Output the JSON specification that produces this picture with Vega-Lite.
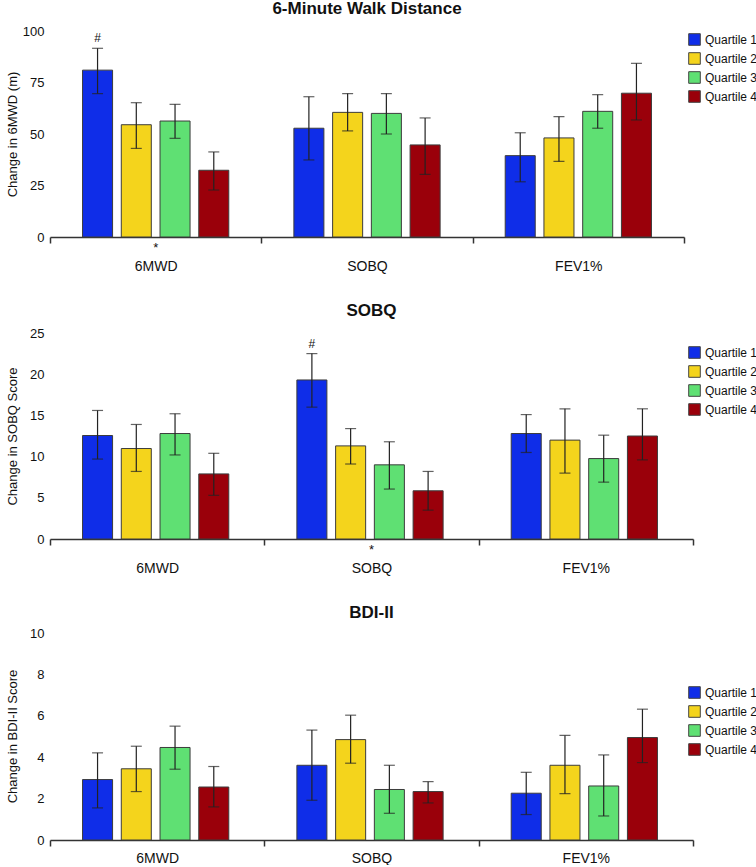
{
  "$schema": "https://vega.github.io/schema/vega-lite/v6.json",
  "padding": {"left": 6, "top": 0, "right": 0, "bottom": 0},
  "autosize": {"type": "pad"},
  "spacing": 29,
  "config": {
    "font": "Liberation Sans",
    "view": {"stroke": null},
    "axis": {"labelFont": "Liberation Sans", "titleFont": "Liberation Sans", "labelColor": "#111", "titleColor": "#111", "grid": false},
    "axisX": {"domainColor": "#333", "domainWidth": 1.5, "tickColor": "#333", "tickWidth": 1.5, "tickSize": 6, "tickBand": "extent", "labelPadding": 16, "labelFontSize": 14, "labelAngle": 0},
    "axisY": {"domain": false, "ticks": false, "labelPadding": 6, "labelFontSize": 13, "titleFontSize": 13, "titleFontWeight": "normal", "titleX": -38, "titleY": 103, "titleAngle": -90, "titleAlign": "center", "titleBaseline": "middle"},
    "legend": {"orient": "none", "title": null, "labelFontSize": 12, "labelColor": "#111", "symbolType": "square", "symbolSize": 135, "symbolStrokeColor": "#444", "symbolStrokeWidth": 1, "rowPadding": 2, "labelOffset": 4, "padding": 0},
    "title": {"fontSize": 17, "fontWeight": "bold", "color": "#111", "offset": 7, "anchor": "middle"}
  },
  "datasets": {
    "main": [
      {"panel": "walk", "cat": "6MWD", "q": "Quartile 1", "v": 81.0, "lo": 69.6, "hi": 91.6, "note": "#"},
      {"panel": "walk", "cat": "6MWD", "q": "Quartile 2", "v": 54.5, "lo": 43.0, "hi": 65.2, "note": ""},
      {"panel": "walk", "cat": "6MWD", "q": "Quartile 3", "v": 56.3, "lo": 47.9, "hi": 64.4, "note": ""},
      {"panel": "walk", "cat": "6MWD", "q": "Quartile 4", "v": 32.4, "lo": 22.8, "hi": 41.3, "note": ""},
      {"panel": "walk", "cat": "SOBQ", "q": "Quartile 1", "v": 52.8, "lo": 37.4, "hi": 68.1, "note": ""},
      {"panel": "walk", "cat": "SOBQ", "q": "Quartile 2", "v": 60.5, "lo": 51.5, "hi": 69.6, "note": ""},
      {"panel": "walk", "cat": "SOBQ", "q": "Quartile 3", "v": 60.0, "lo": 50.0, "hi": 69.6, "note": ""},
      {"panel": "walk", "cat": "SOBQ", "q": "Quartile 4", "v": 44.7, "lo": 30.4, "hi": 57.8, "note": ""},
      {"panel": "walk", "cat": "FEV1%", "q": "Quartile 1", "v": 39.5, "lo": 26.8, "hi": 50.6, "note": ""},
      {"panel": "walk", "cat": "FEV1%", "q": "Quartile 2", "v": 48.1, "lo": 36.7, "hi": 58.4, "note": ""},
      {"panel": "walk", "cat": "FEV1%", "q": "Quartile 3", "v": 61.0, "lo": 52.8, "hi": 69.1, "note": ""},
      {"panel": "walk", "cat": "FEV1%", "q": "Quartile 4", "v": 69.8, "lo": 56.8, "hi": 84.3, "note": ""},
      {"panel": "sobq", "cat": "6MWD", "q": "Quartile 1", "v": 12.56, "lo": 9.7, "hi": 15.6, "note": ""},
      {"panel": "sobq", "cat": "6MWD", "q": "Quartile 2", "v": 10.98, "lo": 8.2, "hi": 13.9, "note": ""},
      {"panel": "sobq", "cat": "6MWD", "q": "Quartile 3", "v": 12.8, "lo": 10.2, "hi": 15.2, "note": ""},
      {"panel": "sobq", "cat": "6MWD", "q": "Quartile 4", "v": 7.9, "lo": 5.3, "hi": 10.4, "note": ""},
      {"panel": "sobq", "cat": "SOBQ", "q": "Quartile 1", "v": 19.3, "lo": 16.0, "hi": 22.5, "note": "#"},
      {"panel": "sobq", "cat": "SOBQ", "q": "Quartile 2", "v": 11.3, "lo": 9.1, "hi": 13.4, "note": ""},
      {"panel": "sobq", "cat": "SOBQ", "q": "Quartile 3", "v": 9.0, "lo": 6.06, "hi": 11.8, "note": ""},
      {"panel": "sobq", "cat": "SOBQ", "q": "Quartile 4", "v": 5.85, "lo": 3.5, "hi": 8.2, "note": ""},
      {"panel": "sobq", "cat": "FEV1%", "q": "Quartile 1", "v": 12.8, "lo": 10.5, "hi": 15.1, "note": ""},
      {"panel": "sobq", "cat": "FEV1%", "q": "Quartile 2", "v": 12.0, "lo": 8.0, "hi": 15.8, "note": ""},
      {"panel": "sobq", "cat": "FEV1%", "q": "Quartile 3", "v": 9.76, "lo": 6.9, "hi": 12.6, "note": ""},
      {"panel": "sobq", "cat": "FEV1%", "q": "Quartile 4", "v": 12.5, "lo": 9.6, "hi": 15.8, "note": ""},
      {"panel": "bdi", "cat": "6MWD", "q": "Quartile 1", "v": 2.92, "lo": 1.55, "hi": 4.21, "note": ""},
      {"panel": "bdi", "cat": "6MWD", "q": "Quartile 2", "v": 3.44, "lo": 2.34, "hi": 4.53, "note": ""},
      {"panel": "bdi", "cat": "6MWD", "q": "Quartile 3", "v": 4.47, "lo": 3.42, "hi": 5.5, "note": ""},
      {"panel": "bdi", "cat": "6MWD", "q": "Quartile 4", "v": 2.56, "lo": 1.6, "hi": 3.55, "note": ""},
      {"panel": "bdi", "cat": "SOBQ", "q": "Quartile 1", "v": 3.61, "lo": 1.92, "hi": 5.31, "note": ""},
      {"panel": "bdi", "cat": "SOBQ", "q": "Quartile 2", "v": 4.85, "lo": 3.71, "hi": 6.03, "note": ""},
      {"panel": "bdi", "cat": "SOBQ", "q": "Quartile 3", "v": 2.44, "lo": 1.29, "hi": 3.61, "note": ""},
      {"panel": "bdi", "cat": "SOBQ", "q": "Quartile 4", "v": 2.34, "lo": 1.79, "hi": 2.82, "note": ""},
      {"panel": "bdi", "cat": "FEV1%", "q": "Quartile 1", "v": 2.26, "lo": 1.23, "hi": 3.27, "note": ""},
      {"panel": "bdi", "cat": "FEV1%", "q": "Quartile 2", "v": 3.61, "lo": 2.24, "hi": 5.05, "note": ""},
      {"panel": "bdi", "cat": "FEV1%", "q": "Quartile 3", "v": 2.61, "lo": 1.16, "hi": 4.11, "note": ""},
      {"panel": "bdi", "cat": "FEV1%", "q": "Quartile 4", "v": 4.95, "lo": 3.74, "hi": 6.32, "note": ""}
    ],
    "stars": [
      {"panel": "walk", "cat": "6MWD", "note": "*"},
      {"panel": "sobq", "cat": "SOBQ", "note": "*"}
    ]
  },
  "vconcat": [
    {
      "width": 634, "height": 206,
      "title": "6-Minute Walk Distance",
      "data": {"name": "main"},
      "transform": [{"filter": "datum.panel === 'walk'"}],
      "layer": [
        {"mark": {"type": "bar", "stroke": "#3c3c3c", "strokeWidth": 1},
         "encoding": {
           "x": {"field": "cat", "type": "nominal", "sort": ["6MWD", "SOBQ", "FEV1%"], "scale": {"paddingInner": 0, "paddingOuter": 0}, "title": null},
           "xOffset": {"field": "q", "type": "nominal", "sort": ["Quartile 1", "Quartile 2", "Quartile 3", "Quartile 4"], "scale": {"paddingInner": 0.225, "paddingOuter": 0.84}},
           "y": {"field": "v", "type": "quantitative", "title": "Change in 6MWD (m)", "scale": {"domain": [0, 100], "nice": false}, "axis": {"values": [0, 25, 50, 75, 100]}},
           "color": {"field": "q", "type": "nominal", "scale": {"domain": ["Quartile 1", "Quartile 2", "Quartile 3", "Quartile 4"], "range": ["#0f2de8", "#f4d41c", "#5fe073", "#9a000a"]}, "legend": {"legendX": 638, "legendY": 2}}
         }},
        {"mark": {"type": "rule", "color": "#222", "strokeWidth": 1.2},
         "encoding": {
           "x": {"field": "cat", "type": "nominal", "sort": ["6MWD", "SOBQ", "FEV1%"], "title": null},
           "xOffset": {"field": "q", "type": "nominal", "sort": ["Quartile 1", "Quartile 2", "Quartile 3", "Quartile 4"]},
           "y": {"field": "lo", "type": "quantitative", "title": "Change in 6MWD (m)"},
           "y2": {"field": "hi"}
         }},
        {"mark": {"type": "tick", "color": "#222", "size": 11, "thickness": 1.2},
         "encoding": {
           "x": {"field": "cat", "type": "nominal", "sort": ["6MWD", "SOBQ", "FEV1%"], "title": null},
           "xOffset": {"field": "q", "type": "nominal", "sort": ["Quartile 1", "Quartile 2", "Quartile 3", "Quartile 4"]},
           "y": {"field": "lo", "type": "quantitative", "title": "Change in 6MWD (m)"}
         }},
        {"mark": {"type": "tick", "color": "#222", "size": 11, "thickness": 1.2},
         "encoding": {
           "x": {"field": "cat", "type": "nominal", "sort": ["6MWD", "SOBQ", "FEV1%"], "title": null},
           "xOffset": {"field": "q", "type": "nominal", "sort": ["Quartile 1", "Quartile 2", "Quartile 3", "Quartile 4"]},
           "y": {"field": "hi", "type": "quantitative", "title": "Change in 6MWD (m)"}
         }},
        {"transform": [{"filter": "datum.note === '#'"}],
         "mark": {"type": "text", "dy": -10, "fontSize": 12, "color": "#111"},
         "encoding": {
           "x": {"field": "cat", "type": "nominal", "sort": ["6MWD", "SOBQ", "FEV1%"], "title": null},
           "xOffset": {"field": "q", "type": "nominal", "sort": ["Quartile 1", "Quartile 2", "Quartile 3", "Quartile 4"]},
           "y": {"field": "hi", "type": "quantitative", "title": "Change in 6MWD (m)"},
           "text": {"field": "note"}
         }},
        {"data": {"name": "stars"},
         "transform": [{"filter": "datum.panel === 'walk'"}],
         "mark": {"type": "text", "dy": 11, "fontSize": 13, "color": "#111"},
         "encoding": {
           "x": {"field": "cat", "type": "nominal", "sort": ["6MWD", "SOBQ", "FEV1%"], "title": null},
           "y": {"datum": 0, "type": "quantitative"},
           "text": {"field": "note"}
         }}
      ]
    },
    {
      "width": 643, "height": 206,
      "title": "SOBQ",
      "data": {"name": "main"},
      "transform": [{"filter": "datum.panel === 'sobq'"}],
      "layer": [
        {"mark": {"type": "bar", "stroke": "#3c3c3c", "strokeWidth": 1},
         "encoding": {
           "x": {"field": "cat", "type": "nominal", "sort": ["6MWD", "SOBQ", "FEV1%"], "scale": {"paddingInner": 0, "paddingOuter": 0}, "title": null},
           "xOffset": {"field": "q", "type": "nominal", "sort": ["Quartile 1", "Quartile 2", "Quartile 3", "Quartile 4"], "scale": {"paddingInner": 0.24, "paddingOuter": 0.84}},
           "y": {"field": "v", "type": "quantitative", "title": "Change in SOBQ Score", "scale": {"domain": [0, 25], "nice": false}, "axis": {"values": [0, 5, 10, 15, 20, 25]}},
           "color": {"field": "q", "type": "nominal", "scale": {"domain": ["Quartile 1", "Quartile 2", "Quartile 3", "Quartile 4"], "range": ["#0f2de8", "#f4d41c", "#5fe073", "#9a000a"]}, "legend": {"legendX": 638, "legendY": 13}}
         }},
        {"mark": {"type": "rule", "color": "#222", "strokeWidth": 1.2},
         "encoding": {
           "x": {"field": "cat", "type": "nominal", "sort": ["6MWD", "SOBQ", "FEV1%"], "title": null},
           "xOffset": {"field": "q", "type": "nominal", "sort": ["Quartile 1", "Quartile 2", "Quartile 3", "Quartile 4"]},
           "y": {"field": "lo", "type": "quantitative", "title": "Change in SOBQ Score"},
           "y2": {"field": "hi"}
         }},
        {"mark": {"type": "tick", "color": "#222", "size": 11, "thickness": 1.2},
         "encoding": {
           "x": {"field": "cat", "type": "nominal", "sort": ["6MWD", "SOBQ", "FEV1%"], "title": null},
           "xOffset": {"field": "q", "type": "nominal", "sort": ["Quartile 1", "Quartile 2", "Quartile 3", "Quartile 4"]},
           "y": {"field": "lo", "type": "quantitative", "title": "Change in SOBQ Score"}
         }},
        {"mark": {"type": "tick", "color": "#222", "size": 11, "thickness": 1.2},
         "encoding": {
           "x": {"field": "cat", "type": "nominal", "sort": ["6MWD", "SOBQ", "FEV1%"], "title": null},
           "xOffset": {"field": "q", "type": "nominal", "sort": ["Quartile 1", "Quartile 2", "Quartile 3", "Quartile 4"]},
           "y": {"field": "hi", "type": "quantitative", "title": "Change in SOBQ Score"}
         }},
        {"transform": [{"filter": "datum.note === '#'"}],
         "mark": {"type": "text", "dy": -10, "fontSize": 12, "color": "#111"},
         "encoding": {
           "x": {"field": "cat", "type": "nominal", "sort": ["6MWD", "SOBQ", "FEV1%"], "title": null},
           "xOffset": {"field": "q", "type": "nominal", "sort": ["Quartile 1", "Quartile 2", "Quartile 3", "Quartile 4"]},
           "y": {"field": "hi", "type": "quantitative", "title": "Change in SOBQ Score"},
           "text": {"field": "note"}
         }},
        {"data": {"name": "stars"},
         "transform": [{"filter": "datum.panel === 'sobq'"}],
         "mark": {"type": "text", "dy": 11, "fontSize": 13, "color": "#111"},
         "encoding": {
           "x": {"field": "cat", "type": "nominal", "sort": ["6MWD", "SOBQ", "FEV1%"], "title": null},
           "y": {"datum": 0, "type": "quantitative"},
           "text": {"field": "note"}
         }}
      ]
    },
    {
      "width": 643, "height": 207,
      "title": {"text": "BDI-II", "offset": 5},
      "data": {"name": "main"},
      "transform": [{"filter": "datum.panel === 'bdi'"}],
      "layer": [
        {"mark": {"type": "bar", "stroke": "#3c3c3c", "strokeWidth": 1},
         "encoding": {
           "x": {"field": "cat", "type": "nominal", "sort": ["6MWD", "SOBQ", "FEV1%"], "scale": {"paddingInner": 0, "paddingOuter": 0}, "title": null, "axis": {"labelPadding": 5}},
           "xOffset": {"field": "q", "type": "nominal", "sort": ["Quartile 1", "Quartile 2", "Quartile 3", "Quartile 4"], "scale": {"paddingInner": 0.24, "paddingOuter": 0.84}},
           "y": {"field": "v", "type": "quantitative", "title": "Change in BDI-II Score", "scale": {"domain": [0, 10], "nice": false}, "axis": {"values": [0, 2, 4, 6, 8, 10]}},
           "color": {"field": "q", "type": "nominal", "scale": {"domain": ["Quartile 1", "Quartile 2", "Quartile 3", "Quartile 4"], "range": ["#0f2de8", "#f4d41c", "#5fe073", "#9a000a"]}, "legend": {"legendX": 638, "legendY": 53}}
         }},
        {"mark": {"type": "rule", "color": "#222", "strokeWidth": 1.2},
         "encoding": {
           "x": {"field": "cat", "type": "nominal", "sort": ["6MWD", "SOBQ", "FEV1%"], "title": null},
           "xOffset": {"field": "q", "type": "nominal", "sort": ["Quartile 1", "Quartile 2", "Quartile 3", "Quartile 4"]},
           "y": {"field": "lo", "type": "quantitative", "title": "Change in BDI-II Score"},
           "y2": {"field": "hi"}
         }},
        {"mark": {"type": "tick", "color": "#222", "size": 11, "thickness": 1.2},
         "encoding": {
           "x": {"field": "cat", "type": "nominal", "sort": ["6MWD", "SOBQ", "FEV1%"], "title": null},
           "xOffset": {"field": "q", "type": "nominal", "sort": ["Quartile 1", "Quartile 2", "Quartile 3", "Quartile 4"]},
           "y": {"field": "lo", "type": "quantitative", "title": "Change in BDI-II Score"}
         }},
        {"mark": {"type": "tick", "color": "#222", "size": 11, "thickness": 1.2},
         "encoding": {
           "x": {"field": "cat", "type": "nominal", "sort": ["6MWD", "SOBQ", "FEV1%"], "title": null},
           "xOffset": {"field": "q", "type": "nominal", "sort": ["Quartile 1", "Quartile 2", "Quartile 3", "Quartile 4"]},
           "y": {"field": "hi", "type": "quantitative", "title": "Change in BDI-II Score"}
         }}
      ]
    }
  ],
  "resolve": {"legend": {"color": "independent"}}
}
